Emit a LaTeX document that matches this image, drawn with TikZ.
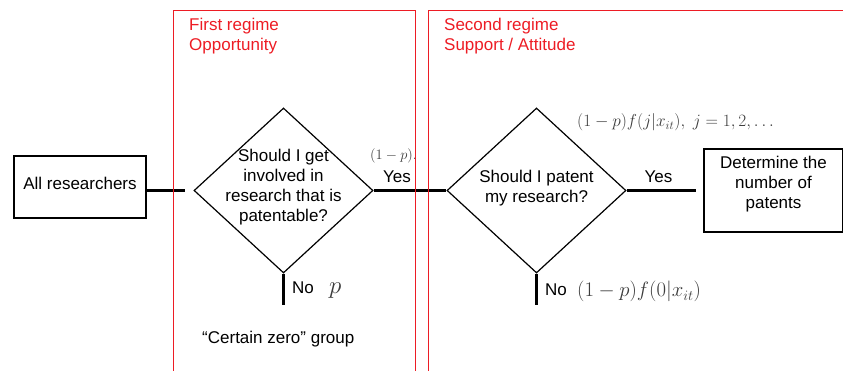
\documentclass[tikz,border=0pt]{standalone}
\usepackage{fontspec}
\setmainfont{Liberation Sans}
\usetikzlibrary{shapes.geometric}
\definecolor{regred}{RGB}{237,28,36}
\definecolor{mathgray}{RGB}{60,60,60}
\begin{document}
\begin{tikzpicture}[x=1pt,y=-1pt,
  every node/.style={font=\fontsize{17}{20}\selectfont, inner sep=0pt},
  box/.style={draw, line width=1.2pt, inner sep=0pt},
  dia/.style={draw, diamond, line width=1.2pt, inner sep=0pt, minimum width=179pt, minimum height=165pt},
  conn/.style={line width=3pt},
  regime/.style={draw=regred, line width=1pt},
  title/.style={text=regred, anchor=base west},
  mathlbl/.style={text=mathgray, anchor=base west, font=\fontsize{13.5}{15}\selectfont},
  lbl/.style={align=center}]
\useasboundingbox (0,0) rectangle (843,371);

% nodes
\node[box, minimum width=132pt, minimum height=62pt] (all) at (80,187) {};
\node[anchor=base] (alltxt) at (80,190) {All researchers};

\node[dia] (d1) at (283.5,190.5) {};
\node[lbl] (q1) at (283.5,187.6) {Should I get\\involved in\\research that is\\patentable?};

\node[dia] (d2) at (536.5,190.5) {};
\node[lbl] (q2) at (536.5,188.6) {Should I patent\\my research?};

\node[box, minimum width=139pt, minimum height=83pt] (det) at (773.5,190.5) {};
\node[lbl] (dettxt) at (773.5,184.6) {Determine the\\number of\\patents};

% connectors
\coordinate (c1) at (185,191);
\coordinate (c2) at (696,190.5);
\coordinate (c3) at (283.5,305);
\coordinate (c4) at (536.5,305);
\draw[conn] (all.east |- c1) -- (c1);
\draw[conn] (d1.east) -- (d2.west);
\draw[conn] (d2.east) -- (c2);
\draw[conn] (d1.south) -- (c3);
\draw[conn] (d2.south) -- (c4);

% labels
\node[mathlbl] (pyes) at (370,160) {$(1-p).$};
\node[anchor=base] (yes1) at (397,183) {Yes};
\node[anchor=base] (yes2) at (658.5,183) {Yes};
\node[anchor=base west] (no1) at (292,294) {No};
\node[mathlbl, font=\fontsize{26}{28}\selectfont] (pno) at (329,294) {$p$};
\node[anchor=base west] (no2) at (545,295) {No};
\node[mathlbl, font=\fontsize{19.5}{22}\selectfont] (fno) at (577,297) {$(1-p)f(0|x_{it})$};
\node[mathlbl, font=\fontsize{17.4}{19}\selectfont] (fyes) at (577,127) {$(1-p)f(j|x_{it}),\ j=1,2,\ldots$};
\node[anchor=base west] (zero) at (202,343) {``Certain zero'' group};

% regimes
\draw[regime] (173,371) -- (173,11) -- (415,11) -- (415,371);
\draw[regime] (428,371) -- (428,11) -- (843,11);
\node[title] (t1a) at (189,31) {First regime};
\node[title] (t1b) at (189,51) {Opportunity};
\node[title] (t2a) at (444,31) {Second regime};
\node[title] (t2b) at (444,51) {Support / Attitude};
\end{tikzpicture}
\end{document}
